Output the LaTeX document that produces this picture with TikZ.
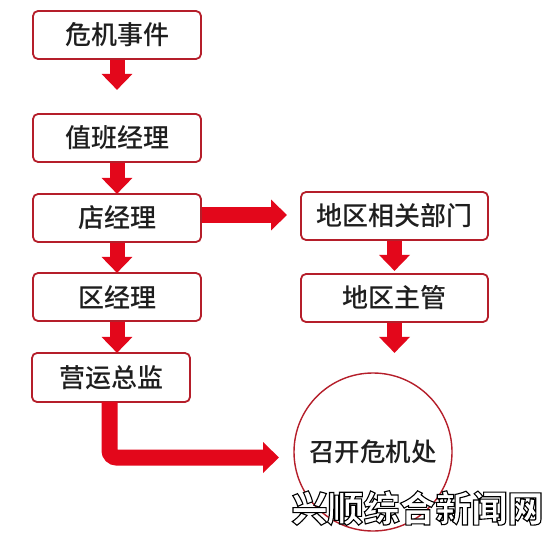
\documentclass[tikz,border=0pt]{standalone}
\usepackage{fontspec}
\setmainfont{Noto Sans CJK SC}
\newfontfamily\cjk{Noto Sans CJK SC Medium}
\newfontfamily\cjkbold{Noto Sans CJK SC Black}
\usetikzlibrary{arrows.meta,calc}
\definecolor{boxred}{HTML}{B51E2A}
\definecolor{arrred}{HTML}{E3071B}
\definecolor{txt}{HTML}{1E1E1E}
\newcommand\outlinetext[1]{\special{pdf:literal direct 0 0 0 RG 2 Tr 1.1 w}#1\special{pdf:literal direct 0 Tr}}
\begin{document}
\begin{tikzpicture}[x=1pt,y=-1pt,
  boxstyle/.style={draw=boxred,line width=1.8pt,rounded corners=5pt,fill=white,
    minimum height=48pt,inner sep=0pt,text=txt,font=\cjk\fontsize{26}{26}\selectfont},
  circstyle/.style={draw=boxred,line width=1.4pt,circle,minimum size=158pt,inner sep=0pt,
    text=txt,font=\cjk\fontsize{25.5}{26}\selectfont},
  blockarrow/.style={draw=arrred,line width=15pt,
    -{Triangle[width=30pt,length=16pt]}},
  wm/.style={font=\cjkbold\fontsize{36}{36}\selectfont,inner sep=0pt}
]
\useasboundingbox (0,0) rectangle (553,540);
\fill[white] (0,0) rectangle (553,540);

\node[boxstyle,minimum width=168pt] (b1) at (117,35) {危机事件};
\node[boxstyle,minimum width=168pt] (b2) at (117,138) {值班经理};
\node[boxstyle,minimum width=168pt] (b3) at (117,218) {店经理};
\node[boxstyle,minimum width=168pt] (b4) at (117,297) {区经理};
\node[boxstyle,minimum width=158pt,minimum height=49pt] (b5) at (111,377.5) {营运总监};
\node[boxstyle,minimum width=187pt] (ra) at (394.5,216) {地区相关部门};
\node[boxstyle,minimum width=187pt] (rb) at (394.5,298) {地区主管};
\node[circstyle] (c) at (373,452) {召开危机处};

\coordinate (t1) at ($(b1.south)+(0,30)$);
\coordinate (t2) at ($(b2.south)+(0,31)$);
\coordinate (t3) at ($(b3.south)+(0,30)$);
\coordinate (t4) at ($(b4.south)+(0,31)$);
\coordinate (ta) at ($(ra.south)+(0,30)$);
\coordinate (tb) at ($(rb.south)+(0,30)$);
\coordinate (tr) at (287,215);
\coordinate (s5) at (109.5,402);
\coordinate (tl) at (279,457.5);

\draw[blockarrow] (b1.south) -- (t1);
\draw[blockarrow] (b2.south) -- (t2);
\draw[blockarrow] (b3.south) -- (t3);
\draw[blockarrow] (b4.south) -- (t4);
\draw[blockarrow] (ra.south) -- (ta);
\draw[blockarrow] (rb.south) -- (tb);
\draw[blockarrow,line width=16pt] (b3.east |- tr) -- (tr);
\draw[blockarrow,line width=16pt,rounded corners=7pt] (s5) |- (tl);

% overlay caption
\node[wm,text=white] (w) at (417.5,508) {\outlinetext{兴顺综合新闻网}};
\end{tikzpicture}
\end{document}
